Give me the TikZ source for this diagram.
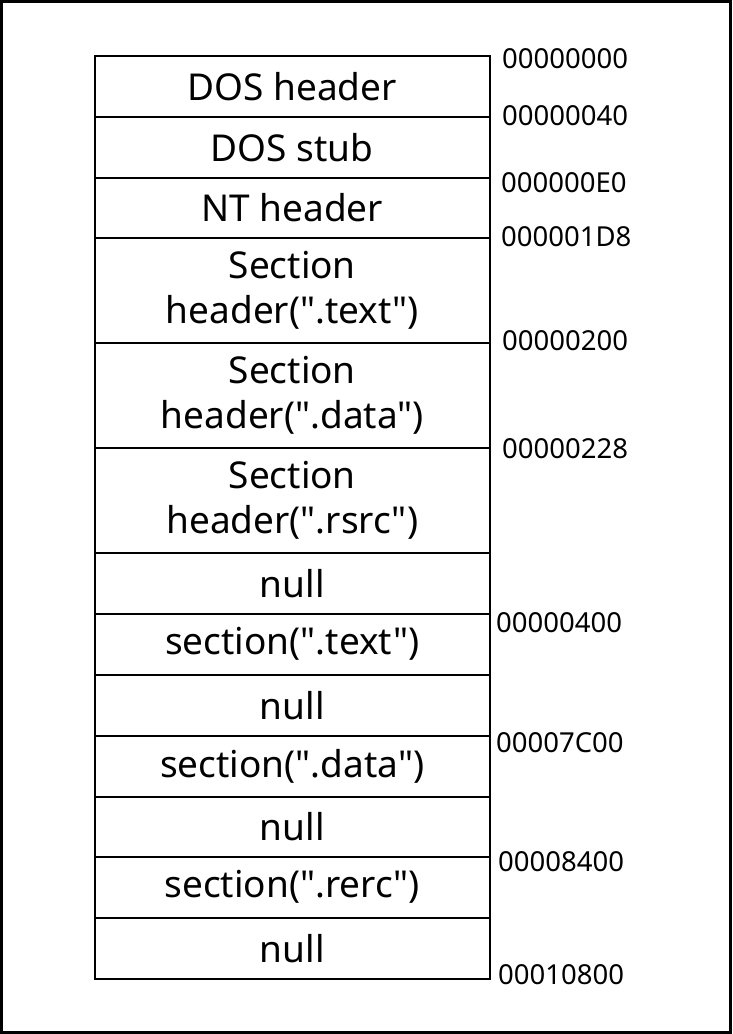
\documentclass[tikz,border=0pt]{standalone}
\usepackage{fontspec}
\setmainfont{Noto Sans}[Ligatures=TeXOff]
\begin{document}
\begin{tikzpicture}[x=1pt,y=-1pt,
  cell/.style={draw,line width=1.5pt,minimum width=395pt,inner sep=0pt,
    anchor=north west,align=center,font=\fontsize{37}{45}\selectfont},
  addr/.style={anchor=west,inner sep=0pt,font=\fontsize{27.5}{30}\selectfont}]
\useasboundingbox (0,0) rectangle (732,1034);
\draw[line width=3pt] (1.5,1.5) rectangle (730.5,1032.5);
% layout of the file, one cell per region
\node[cell,minimum height=61pt]  (doshdr) at (94,55)  {DOS header};
\node[cell,minimum height=61pt]  (dosstub) at (94,116) {DOS stub};
\node[cell,minimum height=60pt]  (nthdr) at (94,177) {NT header};
\node[cell,minimum height=105pt] (shtext) at (94,237) {Section\\header(".text")};
\node[cell,minimum height=105pt] (shdata) at (94,342) {Section\\header(".data")};
\node[cell,minimum height=105pt] (shrsrc) at (94,447) {Section\\header(".rsrc")};
\node[cell,minimum height=61pt]  (null1) at (94,552) {null};
\node[cell,minimum height=61pt]  (stext) at (94,613) {section(".text")};
\node[cell,minimum height=61pt]  (null2) at (94,674) {null};
\node[cell,minimum height=61pt]  (sdata) at (94,735) {section(".data")};
\node[cell,minimum height=60pt]  (null3) at (94,796) {null};
\node[cell,minimum height=61pt]  (srerc) at (94,856) {section(".rerc")};
\node[cell,minimum height=61pt]  (null4) at (94,917) {null};
% file offsets
\node[addr] (a0) at (502,59)  {00000000};
\node[addr] (a1) at (502,116) {00000040};
\node[addr] (a2) at (501,183) {000000E0};
\node[addr] (a3) at (501,237) {000001D8};
\node[addr] (a4) at (502,341) {00000200};
\node[addr] (a5) at (502,449) {00000228};
\node[addr] (a6) at (496,623) {00000400};
\node[addr] (a7) at (496,743) {00007C00};
\node[addr] (a8) at (498,862) {00008400};
\node[addr] (a9) at (498,975) {00010800};
\end{tikzpicture}
\end{document}
